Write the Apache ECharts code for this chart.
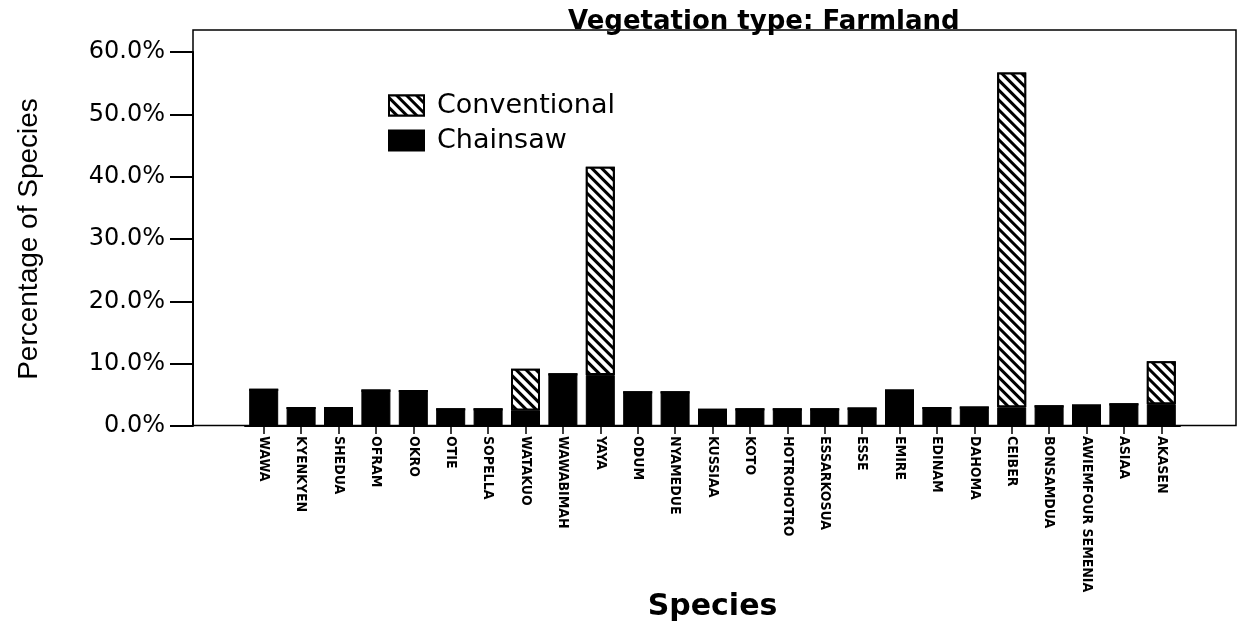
<!DOCTYPE html>
<html>
<head>
<meta charset="utf-8">
<script src="https://cdn.jsdelivr.net/npm/echarts@6/dist/echarts.min.js"></script>
<style>
  html, body { margin: 0; padding: 0; background: #fff; }
  #main { width: 1243px; height: 624px; }
</style>
</head>
<body>
<div id="main"></div>
<script>
const species = ['WAWA', 'KYENKYEN', 'SHEDUA', 'OFRAM', 'OKRO', 'OTIE', 'SOPELLA', 'WATAKUO',
  'WAWABIMAH', 'YAYA', 'ODUM', 'NYAMEDUE', 'KUSSIAA', 'KOTO', 'HOTROHOTRO', 'ESSARKOSUA',
  'ESSE', 'EMIRE', 'EDINAM', 'DAHOMA', 'CEIBER', 'BONSAMDUA', 'AWIEMFOUR SEMENIA', 'ASIAA', 'AKASEN']
const chainsaw = [5.8, 2.9, 2.9, 5.7, 5.6, 2.7, 2.7, 2.5, 8.3, 8.2, 5.4, 5.4, 2.6, 2.7, 2.7, 2.7,
  2.8, 5.7, 2.9, 2.95, 3.0, 3.15, 3.3, 3.5, 3.5]
const conventional = [0, 0, 0, 0, 0, 0, 0, 6.7, 0, 33.4, 0, 0, 0, 0, 0, 0,
  0, 0, 0, 0, 53.7, 0, 0, 0, 6.9]
const yTicks = [0, 10, 20, 30, 40, 50, 60]

const myChart = echarts.init(document.getElementById('main'))

// hatch for the conventional bars
const hatch = {
  symbol: 'rect',
  dashArrayX: [1, 0],
  dashArrayY: [3, 4],
  rotation: Math.PI / 4,
  color: '#000',
  backgroundColor: '#fff'
}

const option = {
  backgroundColor: '#fff',
  animation: false,
  title: {
    text: 'Vegetation type: Farmland',
    left: 563,
    top: 4,
    textStyle: { fontFamily: 'DejaVu Sans', fontSize: 26, fontWeight: 'bold', color: '#000' }
  },
  legend: {
    orient: 'vertical',
    left: 383,
    top: 87,
    itemWidth: 35,
    itemHeight: 20,
    itemGap: 8,
    icon: 'rect',
    data: ['Conventional', 'Chainsaw'],
    textStyle: { fontFamily: 'DejaVu Sans', fontSize: 27, lineHeight: 20, color: '#000', padding: [0, 0, 0, 8] }
  },
  grid: {
    left: 245,
    right: 63,
    top: 52,
    bottom: 198,
    outerBoundsMode: 'none',
    containLabel: false
  },
  xAxis: {
    type: 'category',
    data: species,
    name: 'Species',
    nameLocation: 'middle',
    nameGap: 166,
    nameMoveOverlap: false,
    nameTextStyle: { fontFamily: 'DejaVu Sans', fontSize: 30, fontWeight: 'bold', color: '#000' },
    axisLine: { lineStyle: { color: '#000', width: 2 } },
    axisTick: { show: true, alignWithLabel: true, length: 8, lineStyle: { color: '#000', width: 1.5 } },
    axisLabel: {
      interval: 0,
      rotate: -90,
      margin: 10,
      fontFamily: 'DejaVu Sans Condensed, Liberation Sans',
      fontSize: 14,
      fontWeight: 'bold',
      color: '#000'
    }
  },
  yAxis: {
    type: 'value',
    min: yTicks[0],
    max: yTicks[yTicks.length - 1],
    interval: 10,
    offset: 52,
    name: 'Percentage of Species',
    nameLocation: 'middle',
    nameGap: 150,
    nameTextStyle: { fontFamily: 'Liberation Sans', fontSize: 28, color: '#000' },
    axisLine: { show: true, lineStyle: { color: '#000', width: 2 } },
    axisTick: { show: true, length: 23, lineStyle: { color: '#000', width: 2 } },
    splitLine: { show: false },
    axisLabel: {
      margin: 28,
      fontFamily: 'DejaVu Sans',
      fontSize: 24,
      color: '#000',
      formatter: v => v.toFixed(1) + '%'
    }
  },
  graphic: [
    {
      type: 'rect',
      z: 0,
      shape: { x: 193, y: 30, width: 1043, height: 395.5 },
      style: { fill: 'none', stroke: '#000', lineWidth: 1.5 }
    }
  ],
  series: [
    {
      name: 'Chainsaw',
      type: 'bar',
      stack: 'total',
      barWidth: 29,
      itemStyle: { color: '#000', borderColor: '#000', borderWidth: 1 },
      data: chainsaw
    },
    {
      name: 'Conventional',
      type: 'bar',
      stack: 'total',
      barWidth: 29,
      itemStyle: { color: '#fff', borderColor: '#000', borderWidth: 2, decal: hatch },
      data: conventional
    }
  ]
}
myChart.setOption(option)
</script>
</body>
</html>
